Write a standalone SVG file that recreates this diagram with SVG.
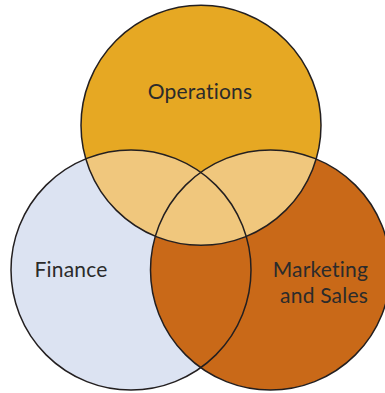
<svg xmlns="http://www.w3.org/2000/svg" width="385" height="393" viewBox="0 0 385 393">
  <style>
    .outline { fill: none; stroke: #231f20; stroke-width: 1.5; }
    .label { font-family: Lato, "Liberation Sans", sans-serif; font-size: 21px; fill: #2b2b2b; letter-spacing: 0.2px; }
    .overlap { fill: #f0c77d; }
  </style>
  <defs>
    <clipPath id="opsClip">
      <circle cx="201" cy="125.3" r="120"/>
    </clipPath>
  </defs>
  <rect width="385" height="393" fill="#ffffff"/>
  <g id="finance">
    <circle cx="131" cy="270" r="120" fill="#dce3f2"/>
  </g>
  <g id="marketing">
    <circle cx="270.5" cy="270" r="120" fill="#c96918"/>
  </g>
  <g id="operations">
    <circle cx="201" cy="125.3" r="120" fill="#e6a823"/>
  </g>
  <g id="overlaps" clip-path="url(#opsClip)">
    <circle class="overlap" cx="131" cy="270" r="120"/>
    <circle class="overlap" cx="270.5" cy="270" r="120"/>
  </g>
  <g id="outlines">
    <circle class="outline" cx="131" cy="270" r="120"/>
    <circle class="outline" cx="270.5" cy="270" r="120"/>
    <circle class="outline" cx="201" cy="125.3" r="120"/>
  </g>
  <g id="labels">
    <text class="label" x="200" y="98.5" text-anchor="middle">Operations</text>
    <text class="label" x="71" y="276.5" text-anchor="middle">Finance</text>
    <text class="label" x="368" y="277" text-anchor="end">Marketing</text>
    <text class="label" x="368" y="303" text-anchor="end">and Sales</text>
  </g>
</svg>
